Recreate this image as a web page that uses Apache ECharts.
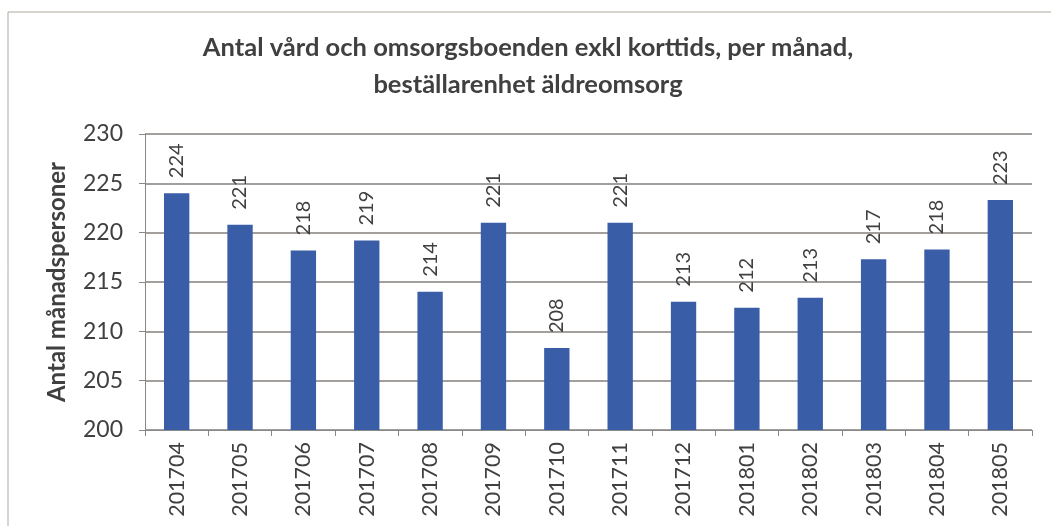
<!DOCTYPE html>
<html>
<head>
<meta charset="utf-8">
<script src="https://cdn.jsdelivr.net/npm/echarts@6/dist/echarts.min.js"></script>
<style>
  html, body { margin: 0; padding: 0; background: #fff; }
  #chart { width: 1051px; height: 526px; }
</style>
</head>
<body>
<div id="chart"></div>
<script>
const months = [
  "201704", "201705", "201706", "201707", "201708", "201709", "201710",
  "201711", "201712", "201801", "201802", "201803", "201804", "201805",
];
// labels show the rounded value
const counts = [224, 220.8, 218.2, 219.2, 214, 221, 208.3, 221, 213, 212.4, 213.4, 217.3, 218.3, 223.3];
const yTicks = [200, 205, 210, 215, 220, 225, 230];

const textColor = "#404040";
const font = "Lato, 'Open Sans', sans-serif";

const chart = echarts.init(document.getElementById("chart"));

const option = {
  backgroundColor: "#fff",
  textStyle: { fontFamily: font },
  title: {
    text: "Antal vård och omsorgsboenden exkl korttids, per månad,\nbeställarenhet äldreomsorg",
    left: 523,
    textAlign: "center",
    top: 24,
    textStyle: {
      fontSize: 25.5,
      fontWeight: "bold",
      color: textColor,
      lineHeight: 37,
      fontFamily: font,
    },
  },
  graphic: [
    {
      type: "rect",
      shape: { x: 8, y: 12, width: 1070, height: 540 },
      style: { fill: "none", stroke: "#b0aaa0", lineWidth: 1 },
      silent: true,
    },
  ],
  grid: { left: 145, right: 19, top: 134, bottom: 96 },
  xAxis: {
    type: "category",
    data: months,
    axisLine: { show: true, lineStyle: { color: "#888", width: 1 } },
    axisTick: { show: true, alignWithLabel: false, length: 6, lineStyle: { color: "#888" } },
    axisLabel: {
      rotate: 90,
      fontSize: 21.5,
      color: textColor,
      margin: 12,
      fontFamily: font,
    },
  },
  yAxis: {
    type: "value",
    min: yTicks[0],
    max: yTicks[yTicks.length - 1],
    interval: 5,
    name: "Antal månadspersoner",
    nameLocation: "middle",
    nameGap: 76,
    nameTextStyle: { fontSize: 24, fontWeight: "bold", color: textColor, fontFamily: font },
    axisLine: { show: true, lineStyle: { color: "#888", width: 1 } },
    axisTick: { show: true, length: 6, lineStyle: { color: "#888" } },
    axisLabel: { fontSize: 23, color: textColor, margin: 22, fontFamily: font },
    splitLine: { show: true, lineStyle: { color: "#857f7c", width: 1.5 } },
  },
  series: [
    {
      type: "bar",
      data: counts,
      barWidth: "40%",
      itemStyle: { color: "#3A5DA8" },
      label: {
        show: true,
        position: "top",
        rotate: 90,
        align: "left",
        verticalAlign: "middle",
        distance: 15,
        fontSize: 20,
        color: textColor,
        fontFamily: font,
        formatter: (p) => Math.round(p.value),
      },
    },
  ],
};

chart.setOption(option);
</script>
</body>
</html>
